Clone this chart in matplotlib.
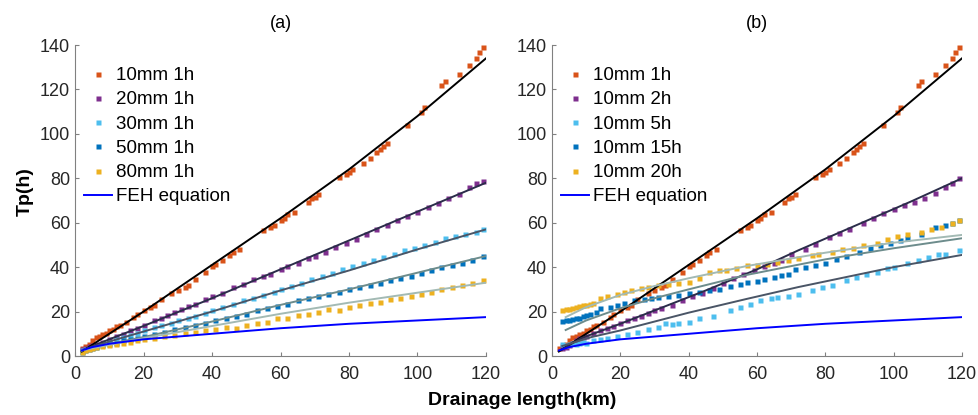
import numpy as np
import matplotlib.pyplot as plt

plt.rcParams['font.family'] = ['Liberation Sans', 'DejaVu Sans']

# ---- panel (a): different rainfall depth, 1h duration ----
a10_x = [2, 3, 4, 5, 6, 7, 8, 9, 10, 11, 12, 13, 15, 17, 18, 20, 22, 23, 25, 28, 30, 32, 33, 35, 38, 40,
         41, 43, 45, 46, 48, 55, 57, 58, 60, 61, 62, 64, 68, 69, 70, 71, 77, 79, 80, 81, 84, 86, 88, 89,
         90, 91, 97, 101, 102, 107, 108, 112, 115, 117, 118, 119]
a10_y = [3.5, 4.5, 5.5, 7, 8.5, 9, 10, 10.5, 11.5, 12, 13.5, 14, 15.5, 17.5, 19, 20.5, 22, 23, 25.5, 28.5,
         29.5, 31, 32, 34.5, 38, 40.5, 41.5, 43, 45.5, 47, 48, 56.5, 58, 59, 61, 62, 64, 65, 69.5, 71, 71.5,
         73, 80.5, 82, 83, 84, 87, 89, 92, 93, 94.5, 96, 104, 110, 112, 122, 124, 127, 131, 134, 137, 139]

a20_x = [2, 3, 4, 5, 6, 8, 10, 12, 14, 16, 18, 20, 23, 25, 27, 29, 31, 33, 35, 38, 40, 43, 46, 49, 52,
         55, 57, 60, 62, 65, 68, 70, 73, 76, 79, 82, 85, 88, 91, 94, 97, 100, 103, 106, 109, 112, 115, 117, 119]
a20_y = [3, 3.5, 4.5, 5, 5.5, 6.5, 7.5, 9, 10, 11.5, 12.5, 14, 16, 17, 18.5, 20, 21, 22.5, 23.5, 25.5, 27,
         28.5, 31, 32.5, 34.5, 36, 37, 39, 40.5, 42, 44, 45, 47, 49, 51, 52.5, 55, 57, 59, 61, 63, 65, 67,
         69, 71, 73, 76, 78, 79]

a30_x = [2, 3, 4, 5, 6, 8, 10, 12, 14, 16, 18, 20, 23, 25, 28, 30, 33, 35, 38, 40, 43, 46, 49, 52, 55,
         58, 60, 63, 66, 69, 72, 75, 78, 81, 84, 87, 90, 93, 96, 99, 102, 105, 108, 111, 114, 117, 119]
a30_y = [2.5, 3, 3.5, 4, 4.5, 5.5, 6.5, 7.5, 8.5, 9.5, 10.5, 11.5, 13, 14, 15, 16, 17, 18, 19.5, 20.5, 22,
         23.5, 25, 26, 27.5, 29, 30, 31.5, 33, 34.5, 36, 37.5, 39, 40.5, 42, 43, 44.5, 46, 47.5, 48.5, 50,
         51.5, 53, 54, 55, 56, 57]

a50_x = [2, 3, 4, 5, 6, 8, 10, 12, 14, 16, 18, 20, 23, 26, 29, 32, 35, 38, 41, 44, 47, 50, 53, 56, 59,
         62, 65, 68, 71, 74, 77, 80, 83, 86, 89, 92, 95, 98, 101, 104, 107, 110, 113, 116, 119]
a50_y = [2, 2.5, 3, 3.5, 4, 5, 5.5, 6, 7, 7.5, 8, 9, 10, 11, 12, 13, 14, 15, 16, 17, 18, 19, 20.5, 21.5,
         22.5, 23.5, 25, 26, 27, 28, 29, 30, 31, 32, 33, 34, 35, 36, 37.5, 38.5, 40, 41, 42, 43, 45]

a80_x = [2, 3, 4, 5, 6, 8, 10, 12, 14, 16, 18, 20, 23, 26, 29, 32, 35, 38, 41, 44, 47, 50, 53, 56, 59,
         62, 65, 68, 71, 74, 77, 80, 83, 86, 89, 92, 95, 98, 101, 104, 107, 110, 113, 116, 119]
a80_y = [2, 2.5, 3, 3.5, 4, 4.5, 5, 5.5, 6, 6.5, 7, 7.5, 8, 9, 9.5, 10.5, 11, 11.5, 12, 13, 12.5, 14, 15,
         15.5, 17, 17, 18.5, 19, 20, 21, 20.5, 22, 23, 24, 24.5, 25.5, 26, 27, 28, 29, 30, 31, 32, 33, 34]

# fitted curves
fit_x = [2, 10, 20, 40, 60, 80, 100, 120]
a10_fit = [2, 10, 20, 41, 62, 84, 108, 134]
a20_fit = [2.5, 7.5, 13.5, 26, 39, 52, 65, 78]
a30_fit = [2.5, 6.5, 11, 20, 29.5, 38.5, 48, 57]
a50_fit = [2.5, 5.5, 8.5, 15.5, 23, 30, 37.5, 45]
a80_fit = [2.5, 5, 8, 13.5, 19, 24, 28.5, 33]

feh_x = [2, 5, 10, 20, 40, 60, 80, 100, 120]
feh_y = [2.5, 4, 5.5, 7.5, 10, 12.5, 14.5, 16, 17.5]

# ---- panel (b): 10mm rainfall, different duration ----
b2_x = [3, 4, 5, 6, 7, 8, 9, 10, 12, 14, 16, 18, 20, 22, 24, 26, 28, 30, 32, 35, 38, 41, 44, 47, 50,
        53, 56, 59, 62, 65, 67, 70, 74, 77, 81, 84, 87, 91, 94, 97, 100, 103, 106, 109, 112, 115, 117, 119]
b2_y = [3.5, 4, 5, 6, 7, 8, 8.5, 9, 10.5, 11.5, 12.5, 13.5, 15, 16, 17, 18, 19.5, 20.5, 21.5, 23, 25,
        27, 28.5, 30.5, 33, 35, 37, 38.5, 40.5, 42, 43, 46, 48, 50.5, 53.5, 55.5, 57, 60, 62, 64.5, 66,
        68, 69.5, 71, 73.5, 76, 78, 80]

b5_x = [3, 4, 5, 6, 7, 8, 9, 10, 12, 14, 16, 19, 22, 25, 28, 31, 33, 35, 37, 40, 43, 47, 52, 55, 58,
        61, 64, 66, 69, 72, 76, 79, 82, 86, 89, 92, 95, 98, 100, 104, 107, 110, 113, 115, 119]
b5_y = [5.5, 5, 5.5, 6, 5.5, 6, 6.5, 6, 7, 7.5, 8, 9, 10, 11, 12, 13, 15, 14.5, 15, 15.5, 17, 18, 20.7,
        22, 23.5, 25, 26, 26.5, 27, 28, 29.5, 31, 32, 34, 35.5, 37, 38, 39.5, 40, 42, 43, 44.5, 46, 46, 47.8]

b15_x = [3, 4, 5, 6, 7, 8, 9, 10, 11, 13, 14, 17, 19, 21, 24, 27, 29, 31, 34, 37, 40, 43, 46, 49, 52,
         55, 57, 60, 62, 65, 67, 69, 71, 74, 77, 80, 83, 86, 90, 93, 96, 99, 102, 104, 108, 112, 115, 117, 119]
b15_y = [15.8, 16, 16, 16.5, 17, 17, 18, 18.5, 19, 20, 21.5, 22, 23, 24, 25, 25.5, 26, 26.6, 27, 27.5,
         28.4, 29, 29.7, 30, 31.5, 32.5, 33.5, 33.8, 34.7, 35.5, 36.5, 37, 39, 40, 41, 42, 43.5, 45, 47,
         48.5, 50, 51, 52, 53, 55, 58, 59, 60, 61]

b20_x = [3, 4, 5, 6, 7, 8, 9, 10, 11, 12, 14, 16, 19, 21, 23, 26, 28, 31, 34, 37, 40, 43, 46, 49, 51,
         54, 57, 60, 63, 66, 69, 72, 76, 78, 82, 85, 88, 91, 95, 98, 101, 104, 108, 111, 114, 117, 119]
b20_y = [20.5, 21, 21, 21.5, 22, 22.5, 23, 23, 23.5, 24, 26, 27, 28, 29, 29.7, 30.5, 31, 32, 32.5, 33,
         33.3, 35, 37.8, 38.7, 38.5, 39.5, 41, 41, 41.4, 42.5, 43, 44, 45.5, 46, 47, 48, 48.6, 50, 51,
         52.5, 54, 55, 56, 57, 58, 60, 61]

b2_fit_x = [3, 8.5, 20, 45, 60, 72, 90, 105, 120]
b2_fit = [3, 8, 14.5, 29.5, 39, 47.5, 59.5, 69.5, 80]
b5_fit_x = [3, 11.5, 20, 40, 57, 72, 100, 120]
b5_fit = [4.5, 8.5, 11.5, 19.5, 25.7, 31, 40, 45.5]
bcurve_x = [4, 10, 20, 30, 40, 57, 80, 100, 120]
b15_fit = [11.7, 16, 21.5, 26, 30, 36.5, 43.5, 48.5, 53]
b20_fit = [17.5, 22, 27.5, 31.5, 35, 40.5, 46.5, 51, 54.5]

orange = '#D95319'
purple = '#7E2F8E'
lblue = '#4DBEEE'
dblue = '#0072BD'
yellow = '#EDB120'

fig = plt.figure(figsize=(9.79, 4.15), dpi=100)
ax1 = fig.add_axes([75 / 979, 59 / 415, 411 / 979, 311 / 415])
ax2 = fig.add_axes([552 / 979, 59 / 415, 410 / 979, 311 / 415])

ms = 3.6
# panel a
ax1.plot(a10_x, a10_y, 's', color=orange, ms=ms, mec='none', label='10mm 1h')
ax1.plot(a20_x, a20_y, 's', color=purple, ms=ms, mec='none', label='20mm 1h')
ax1.plot(a30_x, a30_y, 's', color=lblue, ms=ms, mec='none', label='30mm 1h')
ax1.plot(a50_x, a50_y, 's', color=dblue, ms=ms, mec='none', label='50mm 1h')
ax1.plot(a80_x, a80_y, 's', color=yellow, ms=ms, mec='none', label='80mm 1h')
ax1.plot(fit_x, a10_fit, color='black', lw=1.4)
ax1.plot(fit_x, a20_fit, color='#2b2d4a', lw=1.4)
ax1.plot(fit_x, a30_fit, color='#4a5566', lw=1.4)
ax1.plot(fit_x, a50_fit, color='#6d8c8c', lw=1.4)
ax1.plot(fit_x, a80_fit, color='#a3bab4', lw=1.4)
ax1.plot(feh_x, feh_y, color='#0000FF', lw=1.4, label='FEH equation')

# panel b
ax2.plot(a10_x, a10_y, 's', color=orange, ms=ms, mec='none', label='10mm 1h')
ax2.plot(b2_x, b2_y, 's', color=purple, ms=ms, mec='none', label='10mm 2h')
ax2.plot(b5_x, b5_y, 's', color=lblue, ms=ms, mec='none', label='10mm 5h')
ax2.plot(b15_x, b15_y, 's', color=dblue, ms=ms, mec='none', label='10mm 15h')
ax2.plot(b20_x, b20_y, 's', color=yellow, ms=ms, mec='none', label='10mm 20h')
ax2.plot(fit_x, a10_fit, color='black', lw=1.4)
ax2.plot(b2_fit_x, b2_fit, color='#2b2d4a', lw=1.4)
ax2.plot(b5_fit_x, b5_fit, color='#4a5566', lw=1.4)
ax2.plot(bcurve_x, b15_fit, color='#6d8c8c', lw=1.4)
ax2.plot(bcurve_x, b20_fit, color='#a3bab4', lw=1.4)
ax2.plot(feh_x, feh_y, color='#0000FF', lw=1.4, label='FEH equation')

for ax, ttl in [(ax1, '(a)'), (ax2, '(b)')]:
    ax.set_xlim(0, 120)
    ax.set_ylim(0, 140)
    ax.set_xticks(range(0, 121, 20))
    ax.set_yticks(range(0, 141, 20))
    for s in ['top', 'right']:
        ax.spines[s].set_visible(False)
    for s in ['left', 'bottom']:
        ax.spines[s].set_color('#808080')
    ax.tick_params(direction='in', length=3, color='#808080', labelsize=13, labelcolor='#262626')
    ax.tick_params(axis='x', pad=7)
    ax.set_title(ttl, fontsize=13, pad=12)
    ax.legend(loc='upper left', bbox_to_anchor=(9 / 411, 1 - 22 / 311), borderaxespad=0, borderpad=0,
              frameon=False, fontsize=13.5, handlelength=1.5, handletextpad=0.2,
              labelspacing=0.38)

fig.text(25 / 979, 1 - 192 / 415, 'Tp(h)', rotation=90, fontsize=14, fontweight='bold',
         ha='center', va='center')
fig.text(522 / 979, 1 - 400 / 415, 'Drainage length(km)', fontsize=14, fontweight='bold',
         ha='center', va='center')

fig.savefig('out.png', dpi=100)
